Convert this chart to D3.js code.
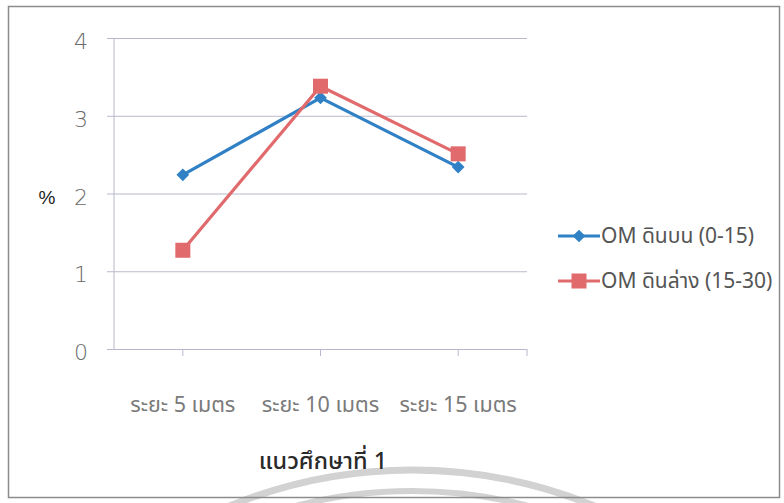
<!DOCTYPE html>
<html>
<head>
<meta charset="utf-8">
<script src="https://cdn.jsdelivr.net/npm/d3@7"></script>
<style>
  html, body { margin: 0; padding: 0; background: #fff; }
  svg { display: block; }
</style>
</head>
<body>
<svg id="chart" width="784" height="503"></svg>
<script>
// Organic matter (OM %) along study line 1
const categories = ["ระยะ 5 เมตร", "ระยะ 10 เมตร", "ระยะ 15 เมตร"];
const topSoil = [2.24, 3.23, 2.34];      // OM ดินบน (0-15)
const subSoil = [1.27, 3.38, 2.51];      // OM ดินล่าง (15-30)
const seriesNames = ["OM ดินบน (0-15)", "OM ดินล่าง (15-30)"];
const yTicks = [0, 1, 2, 3, 4];
const xTitle = "แนวศึกษาที่ 1";
const yTitle = "%";

const thaiFont = "'Noto Sans Thai', 'Tahoma', 'DejaVu Sans', sans-serif";
const svg = d3.select("#chart");

// Faint watermark arcs from the page background
const arcG = svg.append("g").attr("fill", "none").attr("stroke", "#d2d2d2");
arcG.append("circle").attr("cx", 412).attr("cy", 950).attr("r", 480).attr("stroke-width", 7);
arcG.append("circle").attr("cx", 412).attr("cy", 950).attr("r", 459).attr("stroke-width", 6);

// Outer frame
svg.append("rect")
  .attr("x", 8.5).attr("y", 6.5).attr("width", 771).attr("height", 491)
  .attr("fill", "none").attr("stroke", "#8c8c8c").attr("stroke-width", 1.5);

const plot = { left: 114, right: 527, top: 38, bottom: 349 };

const x = d3.scaleBand().domain(categories).range([plot.left, plot.right]);
const y = d3.scaleLinear().domain([0, 4]).range([plot.bottom, plot.top]);

// Gridlines with short outside ticks
const grid = svg.append("g")
  .attr("transform", `translate(${plot.left},0)`)
  .call(d3.axisLeft(y).tickValues(yTicks).tickSize(-(plot.right - plot.left)).tickFormat(""));
grid.select(".domain").remove();
grid.selectAll(".tick line")
  .attr("x1", -7)
  .attr("stroke", "#b8b8cc").attr("stroke-width", 1);

// Y axis line
svg.append("line")
  .attr("x1", plot.left).attr("x2", plot.left)
  .attr("y1", plot.top).attr("y2", plot.bottom)
  .attr("stroke", "#b8b8cc").attr("stroke-width", 1);

// Y tick labels
svg.append("g").selectAll("text").data(yTicks).join("text")
  .attr("x", 81).attr("y", d => y(d) + 11)
  .attr("text-anchor", "middle")
  .attr("font-family", "'DejaVu Sans', sans-serif")
  .attr("font-size", 22).attr("font-weight", 200)
  .attr("fill", "#6a6a6a")
  .text(d => d);

// Category ticks below the baseline
const xTickPos = categories.map(c => x(c) + x.bandwidth() / 2).concat([plot.right]);
svg.append("g").selectAll("line").data(xTickPos).join("line")
  .attr("x1", d => d).attr("x2", d => d)
  .attr("y1", plot.bottom).attr("y2", plot.bottom + 7)
  .attr("stroke", "#b8b8cc").attr("stroke-width", 1);

// Category labels
svg.append("g").selectAll("text").data(categories).join("text")
  .attr("x", d => x(d) + x.bandwidth() / 2)
  .attr("y", 412)
  .attr("text-anchor", "middle")
  .attr("font-family", thaiFont)
  .attr("font-size", 21.5)
  .attr("fill", "#7a7a7a")
  .text(d => d);

// Axis titles
svg.append("text")
  .attr("x", 47).attr("y", 204)
  .attr("text-anchor", "middle")
  .attr("font-family", "'Liberation Sans', Arial, sans-serif")
  .attr("font-size", 19).attr("fill", "#222")
  .text(yTitle);

svg.append("text")
  .attr("x", 323).attr("y", 469)
  .attr("text-anchor", "middle")
  .attr("font-family", thaiFont)
  .attr("font-size", 23.5).attr("font-weight", 500).attr("fill", "#2a2a2a")
  .text(xTitle);

// Series
const colors = ["#2f80c4", "#e06a6c"];
const seriesData = [topSoil, subSoil];
const line = d3.line()
  .x((d, i) => x(categories[i]) + x.bandwidth() / 2)
  .y(d => y(d));

function drawMarker(g, kind, color, cx, cy) {
  if (kind === 0) {
    g.append("rect")
      .attr("x", -4.5).attr("y", -4.5)
      .attr("width", 9).attr("height", 9)
      .attr("transform", `translate(${cx},${cy}) rotate(45)`)
      .attr("fill", color);
  } else {
    g.append("rect")
      .attr("x", cx - 7.5).attr("y", cy - 7.5)
      .attr("width", 15).attr("height", 15)
      .attr("fill", color);
  }
}

seriesData.forEach((vals, s) => {
  const g = svg.append("g");
  g.append("path")
    .datum(vals)
    .attr("d", line)
    .attr("fill", "none")
    .attr("stroke", colors[s])
    .attr("stroke-width", 3.2)
    .attr("stroke-linejoin", "round");
  vals.forEach((v, i) => drawMarker(g, s, colors[s], x(categories[i]) + x.bandwidth() / 2, y(v)));
});

// Legend
const legendY = [236, 281];
seriesNames.forEach((name, s) => {
  const g = svg.append("g");
  g.append("line")
    .attr("x1", 558).attr("x2", 600)
    .attr("y1", legendY[s]).attr("y2", legendY[s])
    .attr("stroke", colors[s]).attr("stroke-width", 3.2);
  drawMarker(g, s, colors[s], 579, legendY[s]);
  g.append("text")
    .attr("x", 601).attr("y", legendY[s] + 7)
    .attr("font-family", thaiFont)
    .attr("font-size", 21)
    .attr("fill", "#555")
    .text(name);
});
</script>
</body>
</html>
